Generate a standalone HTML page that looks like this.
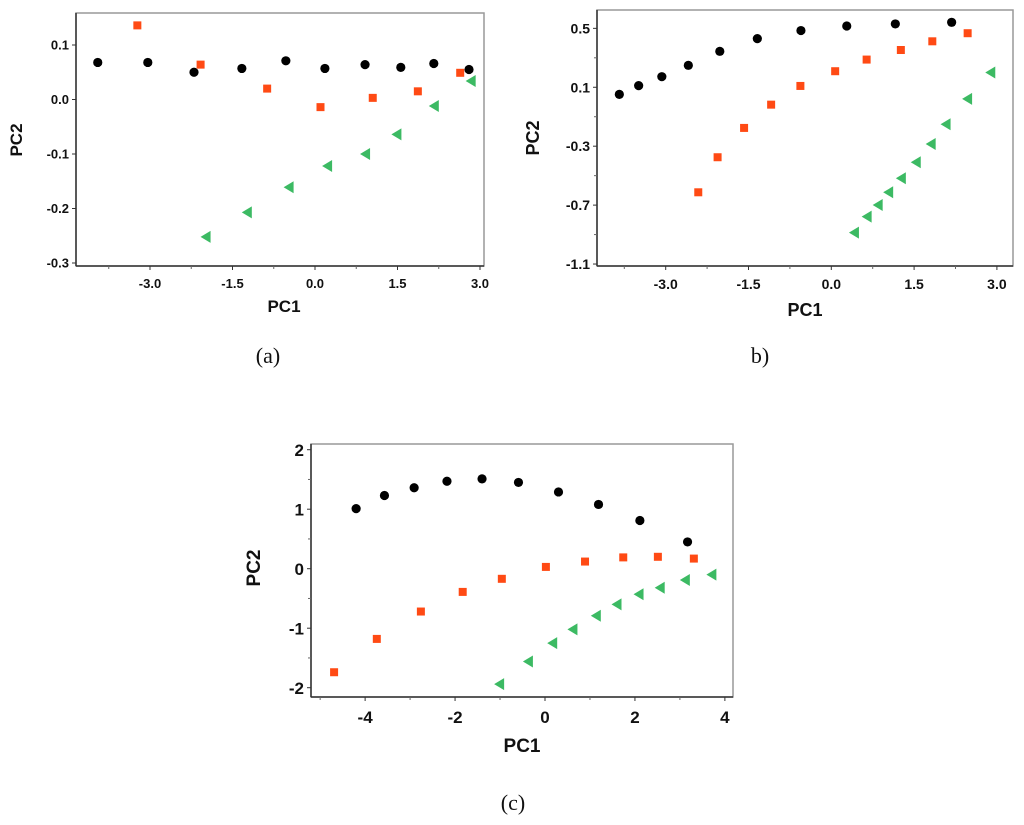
<!DOCTYPE html>
<html><head><meta charset="utf-8"><style>
body{margin:0;background:#fff;width:1024px;height:825px;overflow:hidden}
svg{position:absolute;left:0;top:0}
text{font-family:"Liberation Sans",sans-serif;font-weight:bold;fill:#111}
.cap{font-family:"Liberation Serif",serif;font-weight:normal;font-size:22px}
</style></head><body>
<svg id="fig" width="1024" height="825"></svg>
<script>
// Panel (a)
const aBlackX=[-3.95,-3.04,-2.2,-1.33,-0.53,0.18,0.91,1.56,2.16,2.80];
const aBlackY=[0.068,0.068,0.050,0.057,0.071,0.057,0.064,0.059,0.066,0.055];
const aOrangeX=[-3.23,-2.08,-0.87,0.10,1.05,1.87,2.64];
const aOrangeY=[0.136,0.064,0.020,-0.014,0.003,0.015,0.049];
const aGreenX=[-1.99,-1.24,-0.48,0.22,0.91,1.48,2.16,2.83];
const aGreenY=[-0.252,-0.207,-0.161,-0.122,-0.100,-0.064,-0.012,0.034];
const aXTicks=[-3.0,-1.5,0.0,1.5,3.0];
const aYTicks=[0.1,0.0,-0.1,-0.2,-0.3];
// Panel (b)
const bBlackX=[-3.84,-3.49,-3.07,-2.59,-2.02,-1.34,-0.55,0.28,1.16,2.18];
const bBlackY=[0.052,0.111,0.172,0.249,0.344,0.430,0.485,0.516,0.530,0.541];
const bOrangeX=[-2.41,-2.06,-1.58,-1.09,-0.56,0.07,0.64,1.26,1.83,2.47];
const bOrangeY=[-0.613,-0.375,-0.176,-0.018,0.109,0.209,0.288,0.353,0.412,0.467];
const bGreenX=[0.41,0.64,0.84,1.03,1.26,1.53,1.80,2.07,2.46,2.88];
const bGreenY=[-0.887,-0.778,-0.699,-0.613,-0.518,-0.409,-0.285,-0.151,0.021,0.200];
const bXTicks=[-3.0,-1.5,0.0,1.5,3.0];
const bYTicks=[0.5,0.1,-0.3,-0.7,-1.1];
// Panel (c)
const cBlackX=[-4.20,-3.57,-2.91,-2.18,-1.40,-0.59,0.30,1.19,2.11,3.17];
const cBlackY=[1.01,1.23,1.36,1.47,1.51,1.45,1.29,1.08,0.81,0.45];
const cOrangeX=[-4.69,-3.74,-2.76,-1.83,-0.96,0.02,0.89,1.74,2.51,3.31];
const cOrangeY=[-1.74,-1.18,-0.72,-0.39,-0.17,0.03,0.12,0.19,0.20,0.17];
const cGreenX=[-1.02,-0.38,0.16,0.61,1.13,1.59,2.08,2.55,3.11,3.70];
const cGreenY=[-1.94,-1.56,-1.25,-1.02,-0.79,-0.60,-0.43,-0.32,-0.19,-0.10];
const cXTicks=[-4,-2,0,2,4];
const cYTicks=[2,1,0,-1,-2];

const NS="http://www.w3.org/2000/svg";
const fig=document.getElementById('fig');
function mk(tag,attrs,parent){const e=document.createElementNS(NS,tag);for(const k in attrs)e.setAttribute(k,attrs[k]);(parent||fig).appendChild(e);return e;}

function panel(id,box,x0,xs,y0,ys,xTicks,yTicks,xMinor,yMinor,dec,fs,series,xlab,ylab){
  const g=mk('g',{});
  
  
  const X=v=>x0+v*xs, Y=v=>y0-v*ys;
  const r=mk('rect',{x:box[0],y:box[1],width:box[2]-box[0],height:box[3]-box[1],fill:'#fff',stroke:'#999','stroke-width':1.5},g);
  
  
  mk('line',{x1:box[0],y1:box[1],x2:box[0],y2:box[3],stroke:'#333','stroke-width':1.5},g);
  mk('line',{x1:box[0],y1:box[3],x2:box[2],y2:box[3],stroke:'#333','stroke-width':1.5},g);
  xTicks.forEach(t=>{
    mk('line',{x1:X(t),y1:box[3],x2:X(t),y2:box[3]+4,stroke:'#333'},g);
    const tx=mk('text',{x:X(t),y:box[3]+fs+9,'text-anchor':'middle','font-size':fs},g);
    tx.textContent=t.toFixed(dec);
    
    
  });
  xMinor.forEach(t=>mk('line',{x1:X(t),y1:box[3],x2:X(t),y2:box[3]+3,stroke:'#666'},g));
  yTicks.forEach(t=>{
    mk('line',{x1:box[0]-4,y1:Y(t),x2:box[0],y2:Y(t),stroke:'#333'},g);
    const ty=mk('text',{x:box[0]-7,y:Y(t)+fs*0.36,'text-anchor':'end','font-size':fs},g);
    ty.textContent=t.toFixed(dec);
    
    
  });
  yMinor.forEach(t=>mk('line',{x1:box[0]-3,y1:Y(t),x2:box[0],y2:Y(t),stroke:'#666'},g));
  const xl=mk('text',{x:xlab[0],y:xlab[1],'text-anchor':'middle','font-size':xlab[2]},g);
  xl.textContent='PC1';
  
  
  const yl=mk('text',{x:0,y:0,'text-anchor':'middle','font-size':ylab[2],transform:`translate(${ylab[0]},${ylab[1]}) rotate(-90)`},g);
  yl.textContent='PC2';
  
  
  series.forEach(s=>{
    s.xs.forEach((v,i)=>{
      const cx=X(v), cy=Y(s.ys[i]); let m;
      if(s.type==='circle') m=mk('circle',{cx,cy,r:4.6,fill:'#000'},g);
      else if(s.type==='square') m=mk('rect',{x:cx-4,y:cy-4,width:8,height:8,fill:'#ff4a14'},g);
      else m=mk('polygon',{points:`${cx-5},${cy} ${cx+5},${cy-6} ${cx+5},${cy+6}`,fill:'#3cba63'},g);
      
      
    });
  });
}
panel('a',[76,13,484,266],315,55,99.5,545,aXTicks,aYTicks,[-3.75,-2.25,-0.75,0.75,2.25],[],1,13,
 [{type:'circle',name:'black',xs:aBlackX,ys:aBlackY},{type:'square',name:'orange',xs:aOrangeX,ys:aOrangeY},{type:'triangle',name:'green',xs:aGreenX,ys:aGreenY}],
 [284,312,17],[22,140,17]);
panel('b',[597,10,1013,266],831.3,55.2,102,147.3,bXTicks,bYTicks,[-3.75,-2.25,-0.75,0.75,2.25],[0.3,-0.1,-0.5,-0.9],1,14,
 [{type:'circle',name:'black',xs:bBlackX,ys:bBlackY},{type:'square',name:'orange',xs:bOrangeX,ys:bOrangeY},{type:'triangle',name:'green',xs:bGreenX,ys:bGreenY}],
 [805,316,18],[539,138,18]);
panel('c',[311,444,733,697],545,44.97,568.7,59.5,cXTicks,cYTicks,[-5,-3,-1,1,3],[1.5,0.5,-0.5,-1.5],0,17,
 [{type:'circle',name:'black',xs:cBlackX,ys:cBlackY},{type:'square',name:'orange',xs:cOrangeX,ys:cOrangeY},{type:'triangle',name:'green',xs:cGreenX,ys:cGreenY}],
 [522,752,19],[260,568,19]);
[['(a)',268,363],['b)',760,363],['(c)',513,810]].forEach(c=>{
  const t=mk('text',{x:c[1],y:c[2],'text-anchor':'middle',class:'cap'});
  t.textContent=c[0];
  
  
});
</script>
</body></html>
